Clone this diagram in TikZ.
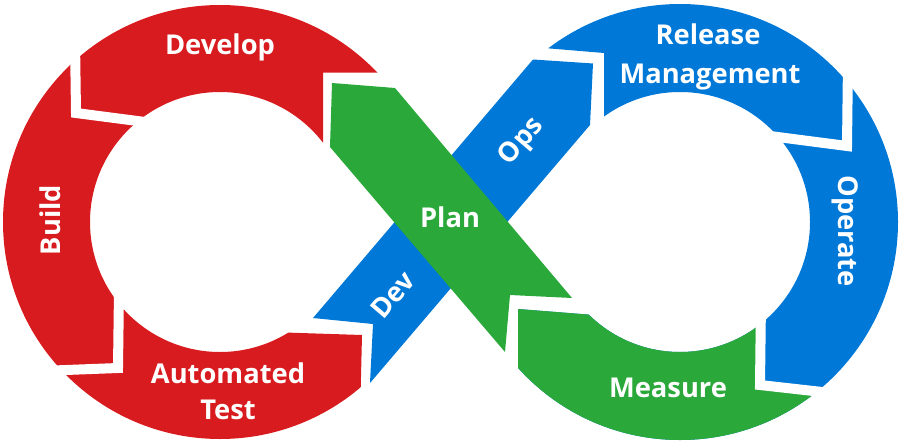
\documentclass[tikz,border=0pt]{standalone}
\usepackage{fontspec}
\setmainfont{Open Sans}
\definecolor{dred}{RGB}{216,27,31}
\definecolor{dblue}{RGB}{0,120,215}
\definecolor{dgreen}{RGB}{43,168,58}
\begin{document}
\begin{tikzpicture}[x=1pt,y=-1pt,
  lbl/.style={text=white,font=\fontsize{27.3}{33}\selectfont\bfseries,inner sep=0pt},
  gapline/.style={draw=white,line width=10pt,line join=miter}]
\useasboundingbox (0,0) rectangle (901,444);
% left ring (red)
\begin{scope}
  \clip (-10,-10) -- (460,-10) -- (460,72.5) -- (323,72.5) -- (323,222) -- (285,332.5) -- (362,335) -- (359,460) -- (-10,460) -- cycle;
  \fill[dred,even odd rule] (220,222) circle[radius=217pt] (220,222) circle[radius=130pt];
\end{scope}
% right ring (blue, green part)
\begin{scope}
  \clip (520,-10) -- (910,-10) -- (910,460) -- (518,460) -- (518,309) -- (600,315.5) -- (604,220) -- (604,53) -- (520,46) -- cycle;
  \fill[dblue,even odd rule] (680,222) circle[radius=218pt] (680,222) circle[radius=130pt];
  \clip (500,240) -- (761,240) -- (761,385) -- (840,394) -- (910,460) -- (500,460) -- cycle;
  \fill[dgreen,even odd rule] (680,222) circle[radius=218pt] (680,222) circle[radius=130pt];
\end{scope}
% gaps within rings
\draw[gapline] (75,40) -- (76,113) -- (145,122);
\draw[gapline] (119,290) -- (118,368) -- (40,371);
\draw[gapline] (848,60) -- (847,146) -- (770,136);
\draw[gapline] (761,300) -- (760,385) -- (840,394);
% crossing bands
\fill[dblue] (313,318) -- (373,324) -- (370,383) -- (590,125) -- (593,63.5) -- (533,59.5) -- cycle;
\fill[dgreen] (332,83) -- (395,88) -- (572,298) -- (510,295) -- (505,352) -- (330,147) -- cycle;
% labels
\node[lbl,anchor=base] (develop) at (220,55) {Develop};
\node[lbl,anchor=base,rotate=90] (build) at (60,220) {Build};
\node[lbl,anchor=base] (auto) at (228,383) {Automated};
\node[lbl,anchor=base] (test) at (228,419) {Test};
\node[lbl,rotate=49.5] (dev) at (393,295) {Dev};
\node[lbl,anchor=base] (plan) at (450,227) {Plan};
\node[lbl,rotate=49.5] (ops) at (522,142) {Ops};
\node[lbl,anchor=base] (rel) at (708,45) {Release};
\node[lbl,anchor=base] (mgmt) at (710,83) {Management};
\node[lbl,anchor=base,rotate=-90] (operate) at (838,231) {Operate};
\node[lbl,anchor=base] (measure) at (668,397) {Measure};
\end{tikzpicture}
\end{document}
